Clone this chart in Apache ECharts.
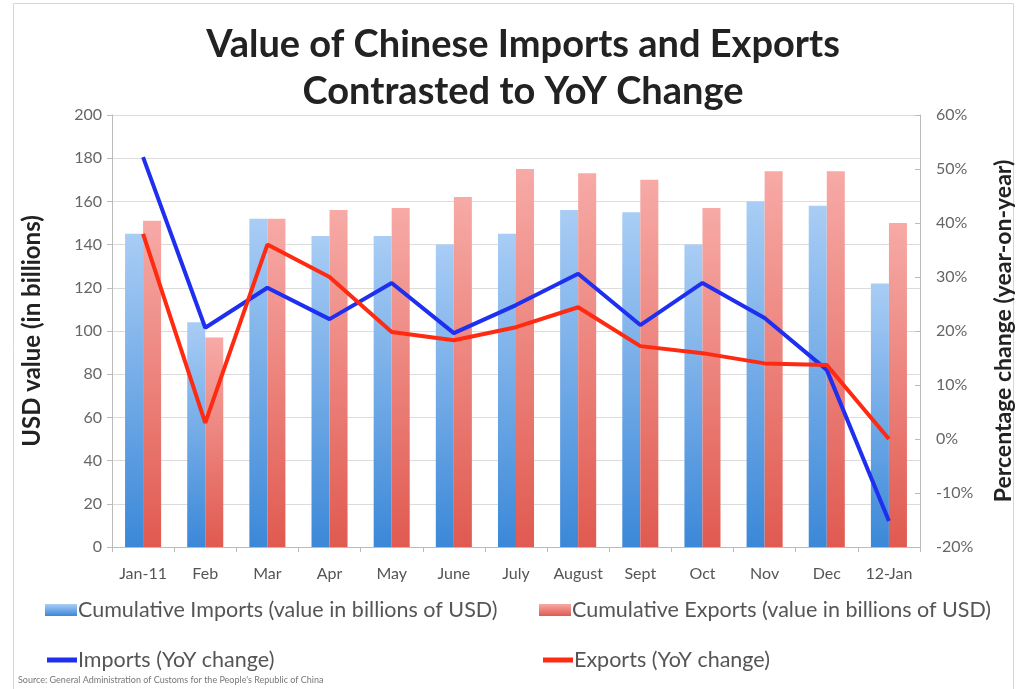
<!doctype html>
<html>
<head>
<meta charset="UTF-8">
<title>Chinese Imports and Exports</title>
<script src="https://cdn.jsdelivr.net/npm/echarts@6/dist/echarts.min.js"></script>
<style>
  html, body { margin: 0; padding: 0; background: #fff; }
  #chart { width: 1023px; height: 689px; }
</style>
</head>
<body>
<div id="chart"></div>
<script>
// categories and values
var months = ['Jan-11', 'Feb', 'Mar', 'Apr', 'May', 'June', 'July', 'August', 'Sept', 'Oct', 'Nov', 'Dec', '12-Jan'];
var importsValue = [145, 104, 152, 144, 144, 140, 145, 156, 155, 140, 160, 158, 122];
var exportsValue = [151, 97, 152, 156, 157, 162, 175, 173, 170, 157, 174, 174, 150];
var importsYoY = [52.2, 20.6, 28, 22.2, 28.9, 19.6, 24.8, 30.6, 21.1, 28.9, 22.4, 12.8, -15.2];
var exportsYoY = [38, 3, 36, 30, 19.8, 18.3, 20.7, 24.4, 17.2, 15.9, 14, 13.7, 0];

var FONT = 'Lato, "Open Sans", sans-serif';
var chart = echarts.init(document.getElementById('chart'));

function grad(top, bottom) {
  return new echarts.graphic.LinearGradient(0, 0, 0, 1, [
    { offset: 0, color: top },
    { offset: 1, color: bottom }
  ]);
}
var blueBar = grad('#a9cdf5', '#3b88d8');
var redBar = grad('#f7aaa6', '#e05a50');

// one legend per item so each sits where the original puts it
function legendAt(left, top, name, isLine) {
  return {
    left: left, top: top,
    data: [{ name: name, icon: 'rect' }],
    itemWidth: isLine ? 30 : 32,
    itemHeight: isLine ? 5 : 12,
    itemGap: 4,
    textStyle: { fontFamily: FONT, fontSize: 21.5, color: '#555', padding: [0, 0, 0, -4] },
    selectedMode: false
  };
}

var option = {
  backgroundColor: '#fff',
  animation: false,
  title: {
    text: 'Value of Chinese Imports and Exports\nContrasted to YoY Change',
    left: 518, top: 16, textAlign: 'center',
    textStyle: { fontFamily: FONT, fontSize: 38, fontWeight: 'bold', color: '#222', lineHeight: 47 }
  },
  legend: [
    legendAt(40, 594, 'Cumulative Imports (value in billions of USD)', false),
    legendAt(534, 594, 'Cumulative Exports (value in billions of USD)', false),
    legendAt(42, 644, 'Imports (YoY change)', true),
    legendAt(538, 644, 'Exports (YoY change)', true)
  ],
  graphic: [
    { type: 'rect', left: 11, top: 1, shape: { width: 1000, height: 686 },
      style: { fill: 'none', stroke: '#d6d6d6', lineWidth: 1 } },
    { type: 'text', left: 18, top: 676,
      style: { text: "Source: General Administration of Customs for the People's Republic of China",
               fontFamily: FONT, fontSize: 9, fill: '#777' } }
  ],
  grid: { left: 112, right: 103, top: 115, bottom: 142 },
  xAxis: {
    type: 'category',
    data: months,
    axisLine: { lineStyle: { color: '#bbb' } },
    axisTick: { show: true, lineStyle: { color: '#bbb' } },
    axisLabel: { fontFamily: FONT, fontSize: 16, color: '#555', margin: 19, interval: 0 }
  },
  yAxis: [
    {
      type: 'value', min: 0, max: 200, interval: 20,
      name: 'USD value (in billions)', nameLocation: 'middle', nameGap: 68, nameRotate: 90,
      nameTextStyle: { fontFamily: FONT, fontSize: 24, fontWeight: 'bold', color: '#222' },
      axisLine: { show: true, lineStyle: { color: '#bbb' } },
      axisTick: { show: true, lineStyle: { color: '#bbb' } },
      axisLabel: { fontFamily: FONT, fontSize: 16, color: '#666', margin: 10 },
      splitLine: { lineStyle: { color: '#dcdcdc' } }
    },
    {
      type: 'value', min: -20, max: 60, interval: 10, position: 'right',
      name: 'Percentage change (year-on-year)', nameLocation: 'middle', nameGap: 72, nameRotate: 90,
      nameTextStyle: { fontFamily: FONT, fontSize: 23, fontWeight: 'bold', color: '#222' },
      axisLine: { show: true, lineStyle: { color: '#bbb' } },
      axisTick: { show: true, inside: true, lineStyle: { color: '#bbb' } },
      axisLabel: { fontFamily: FONT, fontSize: 16, color: '#666', margin: 16, formatter: '{value}%' },
      splitLine: { show: false }
    }
  ],
  series: [
    {
      name: 'Cumulative Imports (value in billions of USD)', type: 'bar',
      data: importsValue, barGap: '0%', barCategoryGap: '42%',
      itemStyle: { color: blueBar }
    },
    {
      name: 'Cumulative Exports (value in billions of USD)', type: 'bar',
      data: exportsValue,
      itemStyle: { color: redBar }
    },
    {
      name: 'Imports (YoY change)', type: 'line', yAxisIndex: 1,
      data: importsYoY, symbol: 'none',
      lineStyle: { color: '#1f2fef', width: 4 }, itemStyle: { color: '#1f2fef' }
    },
    {
      name: 'Exports (YoY change)', type: 'line', yAxisIndex: 1,
      data: exportsYoY, symbol: 'none',
      lineStyle: { color: '#ff2a12', width: 4 }, itemStyle: { color: '#ff2a12' }
    }
  ]
};
chart.setOption(option);
</script>
</body>
</html>
